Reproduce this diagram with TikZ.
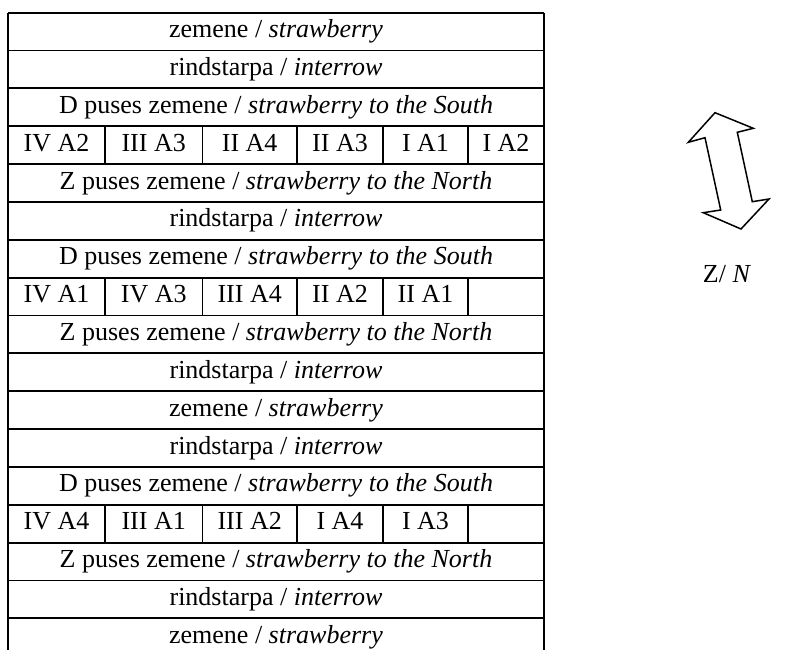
\documentclass[tikz,border=0pt]{standalone}
\usepackage{fontspec}
\setmainfont{Liberation Serif}
\begin{document}
\begin{tikzpicture}[x=1pt,y=-1pt,
  tline/.style={line width=1.8pt},
  arrline/.style={line width=1.5pt, line join=miter},
  txt/.style={font=\fontsize{26}{30}\selectfont, anchor=base, inner sep=0pt}]
\useasboundingbox (0,0) rectangle (787,650);
% horizontal lines
\foreach \k in {0,...,16} {
  \pgfmathsetmacro{\yy}{12.7+37.85*\k}
  \draw[tline] (8,\yy) -- (544,\yy);
}
% outer verticals
\draw[tline] (8,12.7) -- (8,650);
\draw[tline] (544,12.7) -- (544,650);
% inner verticals for cell rows
\foreach \k in {3,7,13} {
  \pgfmathsetmacro{\ya}{12.7+37.85*\k}
  \pgfmathsetmacro{\yb}{12.7+37.85*(\k+1)}
  \foreach \xx in {105,202.5,297,383,468} {
    \draw[tline] (\xx,\ya) -- (\xx,\yb);
  }
}
% full-width rows
\newcommand{\fullrow}[3]{%
  \pgfmathsetmacro{\yy}{12.7+37.85*#1+25}
  \node[txt] (#2) at (276,\yy) {#3};
}
\fullrow{0}{r0}{zemene / \textit{strawberry}}
\fullrow{1}{r1}{rindstarpa / \textit{interrow}}
\fullrow{2}{r2}{D puses zemene / \textit{strawberry to the South}}
\fullrow{4}{r4}{Z puses zemene / \textit{strawberry to the North}}
\fullrow{5}{r5}{rindstarpa / \textit{interrow}}
\fullrow{6}{r6}{D puses zemene / \textit{strawberry to the South}}
\fullrow{8}{r8}{Z puses zemene / \textit{strawberry to the North}}
\fullrow{9}{r9}{rindstarpa / \textit{interrow}}
\fullrow{10}{r10}{zemene / \textit{strawberry}}
\fullrow{11}{r11}{rindstarpa / \textit{interrow}}
\fullrow{12}{r12}{D puses zemene / \textit{strawberry to the South}}
\fullrow{14}{r14}{Z puses zemene / \textit{strawberry to the North}}
\fullrow{15}{r15}{rindstarpa / \textit{interrow}}
\fullrow{16}{r16}{zemene / \textit{strawberry}}
% cell rows
\newcommand{\cellrow}[7]{%
  \pgfmathsetmacro{\yy}{12.7+37.85*#1+25}
  \node[txt] (c#1a) at (56.5,\yy) {#2};
  \node[txt] (c#1b) at (153.7,\yy) {#3};
  \node[txt] (c#1c) at (249.7,\yy) {#4};
  \node[txt] (c#1d) at (340,\yy) {#5};
  \node[txt] (c#1e) at (425.5,\yy) {#6};
  \node[txt] (c#1f) at (506,\yy) {#7};
}
\cellrow{3}{IV A2}{III A3}{II A4}{II A3}{I A1}{I A2}
\cellrow{7}{IV A1}{IV A3}{III A4}{II A2}{II A1}{}
\cellrow{13}{IV A4}{III A1}{III A2}{I A4}{I A3}{}
% double arrow
\draw[arrline] (715,112.7) -- (753.3,128.3) -- (737.3,132.3) -- (752.3,201.7)
  -- (769,199) -- (741,229) -- (703.3,212.7) -- (720.7,210) -- (705,137.7)
  -- (688.3,142.3) -- cycle;
\node[txt] (lbl) at (727,282) {Z/ \textit{N}};
\end{tikzpicture}
\end{document}
